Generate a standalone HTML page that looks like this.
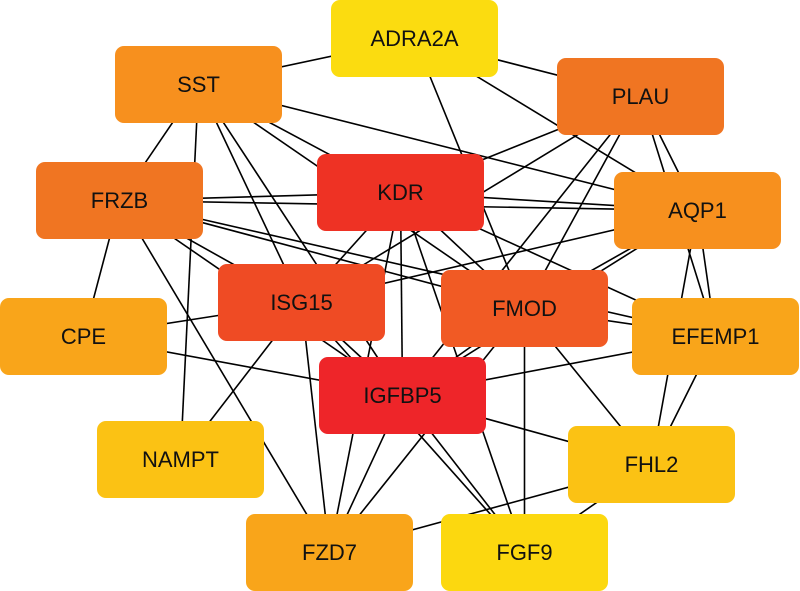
<!DOCTYPE html>
<html><head><meta charset="utf-8"><style>
body{margin:0;background:#fff;width:800px;height:591px;overflow:hidden}
svg{display:block}
text{font-family:"Liberation Sans",Arial,sans-serif;font-size:22px;fill:#111;text-anchor:middle;dominant-baseline:central}
</style></head><body>
<svg width="800" height="591" viewBox="0 0 800 591" xmlns="http://www.w3.org/2000/svg">
<g id="edges" stroke="#000" stroke-width="1.6"></g>
<g id="nodes"></g>
</svg>
<script>
const N={
ADRA2A:[331,0,'#fbdc10'],SST:[115,46,'#f7901e'],PLAU:[557,58,'#f07522'],KDR:[317,154,'#ee3224'],
FRZB:[36,162,'#f07522'],AQP1:[614,172,'#f7901e'],ISG15:[218,264,'#ef4b24'],FMOD:[441,270,'#f15a24'],
CPE:[0,298,'#f9a51a'],EFEMP1:[632,298,'#f9a51a'],IGFBP5:[319,357,'#ee2529'],NAMPT:[97,421,'#fbc214'],
FHL2:[568,426,'#fbc214'],FZD7:[246,514,'#f9a51a'],FGF9:[441,514,'#fcd80f']};
const W=167,H=77;
const E=`SST-ADRA2A SST-FRZB SST-KDR SST-AQP1 SST-ISG15 SST-IGFBP5 SST-NAMPT SST-FMOD
ADRA2A-PLAU ADRA2A-FMOD ADRA2A-AQP1 PLAU-KDR PLAU-ISG15 PLAU-FMOD PLAU-AQP1 PLAU-EFEMP1 PLAU-IGFBP5
KDR-FRZB KDR-AQP1 KDR-ISG15 KDR-FMOD KDR-IGFBP5 KDR-EFEMP1 KDR-FGF9 KDR-FZD7
FRZB-CPE FRZB-ISG15 FRZB-IGFBP5 FRZB-FMOD FRZB-EFEMP1 FRZB-FZD7 FRZB-AQP1
AQP1-ISG15 AQP1-IGFBP5 AQP1-FMOD AQP1-EFEMP1 AQP1-FHL2
ISG15-CPE ISG15-NAMPT ISG15-IGFBP5 ISG15-FZD7 ISG15-FGF9
FMOD-EFEMP1 FMOD-IGFBP5 FMOD-FHL2 FMOD-FGF9 FMOD-FZD7 CPE-IGFBP5 EFEMP1-IGFBP5 EFEMP1-FHL2
IGFBP5-FHL2 IGFBP5-FZD7 IGFBP5-FGF9 FHL2-FZD7 FHL2-FGF9`.split(/\s+/);
const ns='http://www.w3.org/2000/svg';
const eg=document.getElementById('edges'),ng=document.getElementById('nodes');
E.forEach(e=>{const[a,b]=e.split('-');const A=N[a],B=N[b];const l=document.createElementNS(ns,'line');
l.setAttribute('x1',A[0]+W/2);l.setAttribute('y1',A[1]+H/2);l.setAttribute('x2',B[0]+W/2);l.setAttribute('y2',B[1]+H/2);eg.appendChild(l);});
for(const k in N){const[x,y,c]=N[k];const r=document.createElementNS(ns,'rect');
r.setAttribute('x',x);r.setAttribute('y',y);r.setAttribute('width',W);r.setAttribute('height',H);r.setAttribute('rx',9);r.setAttribute('fill',c);ng.appendChild(r);
const t=document.createElementNS(ns,'text');t.setAttribute('x',x+W/2);t.setAttribute('y',y+H/2);t.textContent=k;ng.appendChild(t);}
</script>
</body></html>
